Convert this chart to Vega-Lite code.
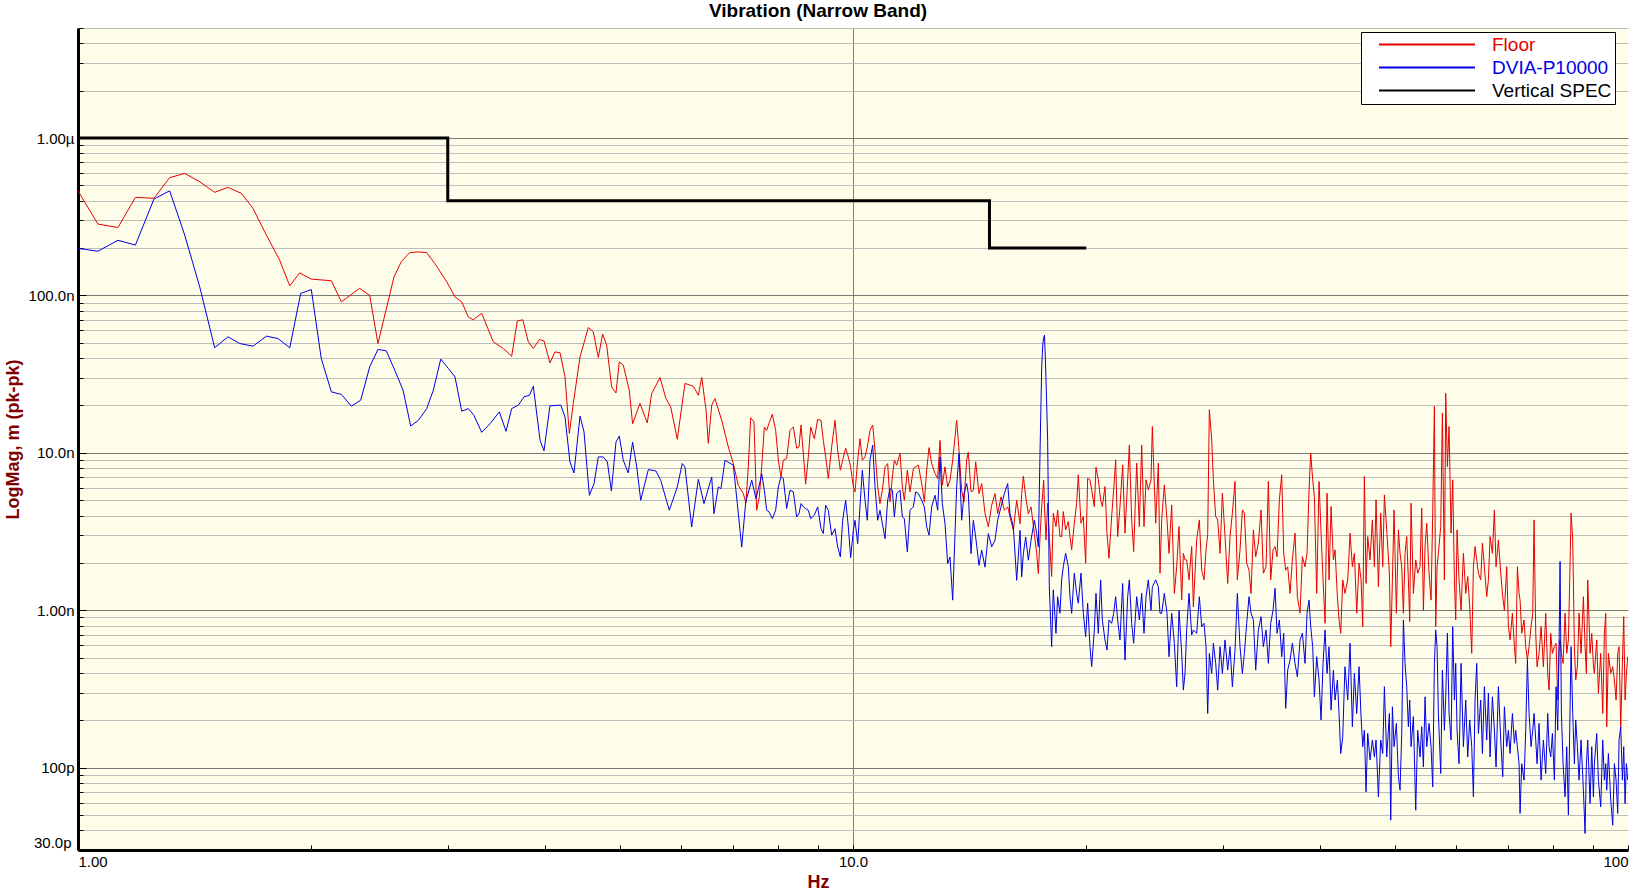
{
"$schema": "https://vega.github.io/schema/vega-lite/v6.json",
"width": 1550, "height": 822,
"autosize": {"type": "none"},
"padding": {"left": 78, "top": 28, "right": 4, "bottom": 42},
"background": "white",
"config": {"view": {"stroke": null, "fill": "#fdfde9"}, "font": "Liberation Sans"},
"title": {"text": "Vibration (Narrow Band)", "fontSize": 19, "fontWeight": "bold", "color": "#000000", "anchor": "middle", "dx": -35, "dy": 20, "offset": 12, "baseline": "alphabetic", "font": "Liberation Sans"},
"datasets": {
"spec": [{"s":"k","f":1,"v":1000},{"s":"k","f":3,"v":400},{"s":"k","f":15,"v":200},{"s":"k","f":20,"v":200}],
"d": [
{"f":1,"r":462},{"f":1.061,"r":284},{"f":1.126,"r":270},{"f":1.186,"r":420},{"f":1.253,"r":414},{"f":1.313,"r":560},{"f":1.373,"r":596},{"f":1.436,"r":527},{"f":1.501,"r":452},{"f":1.561,"r":486},{"f":1.625,"r":445},{"f":1.682,"r":357},{"f":1.75,"r":242},{"f":1.82,"r":168},{"f":1.876,"r":115},{"f":1.932,"r":139},{"f":2,"r":127},{"f":2.123,"r":124},{"f":2.187,"r":91},{"f":2.309,"r":111},{"f":2.379,"r":100},{"f":2.438,"r":49.5},{"f":2.557,"r":131},{"f":2.613,"r":164},{"f":2.679,"r":187},{"f":2.747,"r":189},{"f":2.818,"r":187},{"f":2.888,"r":159},{"f":2.991,"r":122},{"f":3.065,"r":98},{"f":3.127,"r":91},{"f":3.189,"r":73},{"f":3.236,"r":70},{"f":3.318,"r":77},{"f":3.435,"r":50.7},{"f":3.539,"r":46},{"f":3.627,"r":41.1},{"f":3.689,"r":69},{"f":3.749,"r":70},{"f":3.811,"r":50.7},{"f":3.868,"r":46},{"f":3.938,"r":52.5},{"f":3.993,"r":51.4},{"f":4.064,"r":37.3},{"f":4.126,"r":43.8},{"f":4.188,"r":43.2},{"f":4.25,"r":30.4},{"f":4.305,"r":13.3},{"f":4.356,"r":20.6},{"f":4.444,"r":40.7},{"f":4.555,"r":62.5},{"f":4.623,"r":58.7},{"f":4.692,"r":40.4},{"f":4.753,"r":56.8},{"f":4.81,"r":48.3},{"f":4.882,"r":26.2},{"f":4.945,"r":24},{"f":4.994,"r":37.8},{"f":5.053,"r":36.1},{"f":5.144,"r":25},{"f":5.195,"r":15.3},{"f":5.31,"r":20.6},{"f":5.427,"r":15.5},{"f":5.498,"r":23.8},{"f":5.636,"r":30.1},{"f":5.737,"r":22.1},{"f":5.818,"r":19.6},{"f":5.933,"r":12.2},{"f":6.07,"r":27.6},{"f":6.223,"r":26.5},{"f":6.316,"r":23.2},{"f":6.38,"r":30.1},{"f":6.462,"r":18.7},{"f":6.506,"r":11.5},{"f":6.572,"r":20.1},{"f":6.636,"r":22.1},{"f":6.77,"r":16.1},{"f":6.905,"r":10.9},{"f":7.008,"r":8.55},{"f":7.112,"r":6.22},{"f":7.219,"r":5.51},{"f":7.276,"r":4.81},{"f":7.326,"r":8.13},{"f":7.379,"r":16.7},{"f":7.452,"r":15.7},{"f":7.511,"r":4.32},{"f":7.57,"r":5.25},
{"f":1,"b":199},{"f":1.061,"b":191},{"f":1.126,"b":224},{"f":1.186,"b":209},{"f":1.253,"b":409},{"f":1.313,"b":462},{"f":1.373,"b":242},{"f":1.436,"b":113},{"f":1.501,"b":46.5},{"f":1.561,"b":54.6},{"f":1.617,"b":49.5},{"f":1.682,"b":47.6},{"f":1.75,"b":55.1},{"f":1.811,"b":53.3},{"f":1.876,"b":46.5},{"f":1.938,"b":103},{"f":2,"b":109},{"f":2.06,"b":39.8},{"f":2.123,"b":24.4},{"f":2.187,"b":23.5},{"f":2.253,"b":19.8},{"f":2.316,"b":21.6},{"f":2.379,"b":35.2},{"f":2.438,"b":45.4},{"f":2.499,"b":44.5},{"f":2.563,"b":33.5},{"f":2.627,"b":25},{"f":2.687,"b":14.8},{"f":2.749,"b":16.1},{"f":2.818,"b":19.1},{"f":2.874,"b":25},{"f":2.938,"b":39.4},{"f":3.006,"b":34.3},{"f":3.065,"b":30.4},{"f":3.127,"b":18.4},{"f":3.189,"b":19.1},{"f":3.243,"b":17.3},{"f":3.318,"b":13.5},{"f":3.401,"b":15.3},{"f":3.497,"b":18.2},{"f":3.567,"b":13.7},{"f":3.627,"b":19.1},{"f":3.7,"b":20.1},{"f":3.763,"b":22.7},{"f":3.823,"b":23.2},{"f":3.868,"b":26.5},{"f":3.947,"b":12},{"f":3.993,"b":10.3},{"f":4.064,"b":19.9},{"f":4.197,"b":20.1},{"f":4.25,"b":16.9},{"f":4.313,"b":8.75},{"f":4.365,"b":7.45},{"f":4.444,"b":17.1},{"f":4.497,"b":13.6},{"f":4.569,"b":5.37},{"f":4.633,"b":6.38},{"f":4.692,"b":9.42},{"f":4.763,"b":9.42},{"f":4.82,"b":8.75},{"f":4.878,"b":5.73},{"f":4.945,"b":11.7},{"f":4.994,"b":12.8},{"f":5.053,"b":8.97},{"f":5.129,"b":7.45},{"f":5.195,"b":11.7},{"f":5.26,"b":8.13},{"f":5.322,"b":5},{"f":5.444,"b":7.83},{"f":5.569,"b":7.67},{"f":5.647,"b":6.7},{"f":5.794,"b":4.32},{"f":5.933,"b":6.07},{"f":6.021,"b":8.55},{"f":6.07,"b":8.13},{"f":6.192,"b":3.38},{"f":6.316,"b":6.79},{"f":6.423,"b":4.76},{"f":6.572,"b":7.03},{"f":6.616,"b":4.11},{"f":6.702,"b":6.07},{"f":6.756,"b":5.93},{"f":6.836,"b":8.97},{"f":7.008,"b":8.34},{"f":7.091,"b":4.76},{"f":7.185,"b":2.52},{"f":7.271,"b":4.88},{"f":7.402,"b":6.7},{"f":7.496,"b":5.12},{"f":7.586,"b":6.53},
{"f":7.624,"r":8.15,"b":7.39},{"f":7.684,"r":14.6,"b":5.79},{"f":7.738,"r":13.9,"b":4.32},{"f":7.791,"r":15.4,"b":4.22},{"f":7.869,"r":17.6,"b":3.82},{"f":7.947,"r":13.9,"b":4.32},{"f":8.011,"r":8.98,"b":6.08},{"f":8.074,"r":7.04,"b":7.04},{"f":8.13,"r":8.98,"b":6.87},{"f":8.211,"r":9.2,"b":4.43},{"f":8.293,"r":13.9,"b":5.79},{"f":8.376,"r":14.6,"b":5.65},{"f":8.459,"r":10.7,"b":3.92},{"f":8.518,"r":10.9,"b":4.11},{"f":8.569,"r":15,"b":4.76},{"f":8.628,"r":9.9,"b":4.54},{"f":8.688,"r":6.32,"b":4.43},{"f":8.757,"r":9.43,"b":4.32},{"f":8.818,"r":14.6,"b":3.82},{"f":8.915,"r":12.3,"b":4.02},{"f":9.003,"r":16.3,"b":4.54},{"f":9.093,"r":16.1,"b":3.3},{"f":9.156,"r":12,"b":3.07},{"f":9.22,"r":9.43,"b":4.65},{"f":9.293,"r":6.87,"b":4.32},{"f":9.386,"r":10.9,"b":3},{"f":9.479,"r":16.1,"b":3.3},{"f":9.555,"r":10.4,"b":2.53},{"f":9.631,"r":7.76,"b":2.18},{"f":9.698,"r":8.98,"b":3.73},{"f":9.785,"r":10.7,"b":5},{"f":9.862,"r":9.43,"b":3.39},{"f":9.931,"r":8.15,"b":2.16},{"f":10.01,"r":6.08,"b":3.22},{"f":10.06,"r":5.65,"b":3.73},{"f":10.14,"r":8.98,"b":2.65},{"f":10.21,"r":12.3,"b":4.54},{"f":10.281,"r":8.98,"b":7.76},{"f":10.363,"r":9.43,"b":5},{"f":10.435,"r":10.9,"b":3.73},{"f":10.518,"r":13.9,"b":8.98},{"f":10.602,"r":15,"b":11.2},{"f":10.676,"r":10.4,"b":6.08},{"f":10.761,"r":6.08,"b":3.73},{"f":10.835,"r":4.76,"b":4.32},{"f":10.911,"r":5.79,"b":3.55},{"f":10.998,"r":8.15,"b":2.85},{"f":11.085,"r":8.55,"b":5},{"f":11.162,"r":4.88,"b":5.93},{"f":11.24,"r":7.04,"b":5.79},{"f":11.307,"r":8.98,"b":3.92},{"f":11.386,"r":8.35,"b":5.51},{"f":11.499,"r":9.9,"b":5.79},{"f":11.579,"r":6.08,"b":3.92},{"f":11.648,"r":5,"b":3.82},{"f":11.752,"r":7.76,"b":2.35},{"f":11.846,"r":5.65,"b":4.32},{"f":11.964,"r":7.95,"b":4.54},{"f":12.047,"r":8.15,"b":5.65},{"f":12.143,"r":8.35,"b":5.51},{"f":12.264,"r":6.38,"b":5},{"f":12.361,"r":4.88,"b":4.54},{"f":12.447,"r":7.76,"b":3.39},{"f":12.534,"r":10.8,"b":3},{"f":12.633,"r":8.55,"b":4.54},{"f":12.759,"r":7.39,"b":5.38},{"f":12.861,"r":6.87,"b":4.32},{"f":12.95,"r":12,"b":9.43},{"f":13.04,"r":6.23,"b":4.76},{"f":13.144,"r":8.15,"b":3.55},{"f":13.248,"r":6.08,"b":1.98},{"f":13.341,"r":6.7,"b":2.18},{"f":13.447,"r":8.98,"b":1.16},{"f":13.54,"r":12.6,"b":3.07},{"f":13.607,"r":16.1,"b":6.08},{"f":13.702,"r":10.4,"b":9.9},{"f":13.811,"r":5.79,"b":3.73},{"f":13.907,"r":4.88,"b":5.51},{"f":14.018,"r":8.98,"b":6.38},{"f":14.088,"r":10.1,"b":5.51},{"f":14.199,"r":5.65,"b":2.29},{"f":14.298,"r":5.79,"b":3.73},{"f":14.398,"r":8.77,"b":2.92},{"f":14.541,"r":5.51,"b":1.93},{"f":14.657,"r":6.38,"b":2.41},{"f":14.803,"r":4.11,"b":1.88},{"f":14.95,"r":3.39,"b":3.07},{"f":15.099,"r":4.65,"b":2.53},{"f":15.249,"r":5.51,"b":2.79},{"f":15.37,"r":4.11,"b":3.73},{"f":15.523,"r":5.25,"b":4.54},{"f":15.678,"r":4.32,"b":5.51},{"f":15.834,"r":4.54,"b":6.38},{"f":15.944,"r":3.92,"b":4.11},{"f":16.103,"r":3.22,"b":3.39},{"f":16.263,"r":5,"b":1.55},{"f":16.425,"r":3.55,"b":3.22},{"f":16.507,"r":5.51,"b":1.63},{"f":16.589,"r":7.11,"b":2.29},{"f":16.704,"r":5.25,"b":2.92},{"f":16.837,"r":4.11,"b":2.08},{"f":16.971,"r":4.54,"b":2.79},{"f":17.14,"r":3.07,"b":3.73},{"f":17.259,"r":2.29,"b":3.07},{"f":17.344,"r":1.71,"b":2.53},{"f":17.43,"r":2.92,"b":9.9},{"f":17.517,"r":4.54,"b":35},{"f":17.569,"r":5.51,"b":48},{"f":17.621,"r":6.7,"b":54},{"f":17.665,"r":4.54,"b":56},
{"f":17.742,"r":2.8,"b":30},{"f":17.83,"r":4.79,"b":12},{"f":17.918,"r":2.94,"b":1.41},{"f":18.043,"r":1.64,"b":0.587},{"f":18.132,"r":4.14,"b":1.35},{"f":18.276,"r":3.4,"b":0.714},{"f":18.367,"r":4.34,"b":1.22},{"f":18.495,"r":2.94,"b":0.957},{"f":18.587,"r":2.94,"b":1.56},{"f":18.679,"r":4.24,"b":1.89},{"f":18.809,"r":3.24,"b":2.3},{"f":18.959,"r":3.66,"b":1.89},{"f":19.053,"r":2.94,"b":1.22},{"f":19.148,"r":2.42,"b":0.957},{"f":19.3,"r":3.57,"b":1.72},{"f":19.435,"r":4.79,"b":1.28},{"f":19.531,"r":7.25,"b":1.11},{"f":19.687,"r":3.57,"b":1.72},{"f":19.824,"r":3.94,"b":0.957},{"f":19.962,"r":1.99,"b":0.68},{"f":20.08,"r":6.9,"b":1.11},{"f":20.22,"r":6.74,"b":0.587},{"f":20.321,"r":5.82,"b":0.438},{"f":20.482,"r":4.56,"b":0.75},{"f":20.584,"r":8.11,"b":1.28},{"f":20.727,"r":6.74,"b":0.714},{"f":20.871,"r":5.03,"b":1.56},{"f":20.975,"r":4.56,"b":0.868},{"f":21.142,"r":6.11,"b":0.648},{"f":21.268,"r":3.09,"b":0.559},{"f":21.395,"r":2.14,"b":0.868},{"f":21.565,"r":3.94,"b":0.826},{"f":21.694,"r":5.82,"b":0.957},{"f":21.823,"r":9.03,"b":1.22},{"f":21.953,"r":2.94,"b":0.868},{"f":22.106,"r":4.56,"b":0.648},{"f":22.282,"r":8.39,"b":1.48},{"f":22.437,"r":3.09,"b":0.483},{"f":22.615,"r":6.74,"b":1.22},{"f":22.728,"r":11.2,"b":1.56},{"f":22.886,"r":3.75,"b":0.826},{"f":23.022,"r":2.36,"b":0.617},{"f":23.229,"r":8.6,"b":1.22},{"f":23.414,"r":3.4,"b":0.868},{"f":23.577,"r":11.2,"b":1.28},{"f":23.741,"r":3.4,"b":0.714},{"f":23.882,"r":6.74,"b":1.22},{"f":24.048,"r":5.82,"b":1.56},{"f":24.24,"r":6.74,"b":1},{"f":24.336,"r":14.7,"b":1.41},{"f":24.578,"r":3.57,"b":1.56},{"f":24.774,"r":8.6,"b":1.41},{"f":24.897,"r":1.72,"b":0.957},{"f":25.02,"r":3.75,"b":0.957},{"f":25.219,"r":6.26,"b":1.28},{"f":25.42,"r":3.75,"b":0.957},{"f":25.572,"r":2.3,"b":0.507},{"f":25.775,"r":4.67,"b":0.957},{"f":25.98,"r":1.28,"b":0.617},{"f":26.161,"r":1.89,"b":0.327},{"f":26.343,"r":3.4,"b":1},{"f":26.553,"r":1.16,"b":0.532},{"f":26.685,"r":2.3,"b":0.311},{"f":26.817,"r":2.09,"b":0.397},{"f":26.95,"r":2.09,"b":0.75},{"f":27.138,"r":1.56,"b":1.28},{"f":27.354,"r":2.54,"b":0.697},{"f":27.49,"r":1.05,"b":0.75},{"f":27.763,"r":2.8,"b":0.714},{"f":27.984,"r":3.75,"b":1.22},{"f":28.179,"r":1.8,"b":0.787},{"f":28.375,"r":1.56,"b":0.826},{"f":28.544,"r":2.42,"b":0.587},{"f":28.686,"r":3.01,"b":0.221},{"f":28.828,"r":18.8,"b":0.532},{"f":29.029,"r":12.1,"b":0.397},{"f":29.173,"r":6.74,"b":0.617},{"f":29.376,"r":3.94,"b":0.46},{"f":29.551,"r":3.75,"b":0.311},{"f":29.757,"r":2.3,"b":0.587},{"f":29.964,"r":5.54,"b":0.397},{"f":30.202,"r":2.94,"b":0.648},{"f":30.443,"r":1.48,"b":0.417},{"f":30.654,"r":2.94,"b":0.587},{"f":30.868,"r":4.14,"b":0.327},{"f":31.113,"r":6.58,"b":0.559},{"f":31.329,"r":1.56,"b":1.28},{"f":31.578,"r":2.42,"b":0.587},{"f":31.798,"r":4.34,"b":0.397},{"f":31.988,"r":4.14,"b":0.532},{"f":32.21,"r":1.99,"b":0.826},{"f":32.434,"r":1.8,"b":1.22},{"f":32.628,"r":1.28,"b":0.957},{"f":32.855,"r":3.24,"b":0.868},{"f":33.083,"r":2.19,"b":0.417},{"f":33.347,"r":2.67,"b":0.75},{"f":33.612,"r":4.34,"b":0.911},{"f":33.846,"r":1.72,"b":0.587},{"f":34.115,"r":1.89,"b":0.75},{"f":34.352,"r":6.58,"b":0.46},{"f":34.591,"r":1.56,"b":0.826},{"f":34.832,"r":2.42,"b":1},{"f":35.04,"r":2.54,"b":1.38},{"f":35.249,"r":2.19,"b":0.714},{"f":35.494,"r":5.03,"b":0.868},{"f":35.741,"r":7.25,"b":0.507},{"f":35.954,"r":2.3,"b":0.714},{"f":36.169,"r":1.8,"b":0.238},{"f":36.384,"r":1.89,"b":0.417},{"f":36.637,"r":1.28,"b":0.483},{"f":36.892,"r":2.09,"b":0.617},{"f":37.186,"r":3.09,"b":0.46},{"f":37.444,"r":1.22,"b":0.378},{"f":37.742,"r":0.957,"b":0.648},{"f":38.005,"r":2.19,"b":0.714},{"f":38.307,"r":1.89,"b":0.46},{"f":38.535,"r":2.3,"b":0.957},{"f":38.765,"r":5.82,"b":1.16},{"f":38.958,"r":9.95,"b":0.787},{"f":39.19,"r":6.74,"b":0.587},{"f":39.385,"r":5.28,"b":0.282},{"f":39.659,"r":1.28,"b":0.507},{"f":39.935,"r":6.58,"b":0.36},{"f":40.173,"r":3.09,"b":0.201},{"f":40.413,"r":1.56,"b":0.46},{"f":40.653,"r":0.826,"b":0.75},{"f":40.896,"r":5.54,"b":0.397},{"f":41.14,"r":1.56,"b":0.587},{"f":41.385,"r":4.56,"b":0.232},{"f":41.673,"r":2.09,"b":0.417},{"f":41.88,"r":2.42,"b":0.269},{"f":42.171,"r":1.22,"b":0.36},{"f":42.381,"r":0.868,"b":0.221},{"f":42.591,"r":0.714,"b":0.123},{"f":42.845,"r":1.56,"b":0.157},{"f":43.13,"r":1.28,"b":0.438},
{"f":43.486,"r":1.56,"b":0.269},{"f":43.788,"r":3.09,"b":0.617},{"f":44.093,"r":1.89,"b":0.182},{"f":44.356,"r":2.3,"b":0.397},{"f":44.665,"r":0.957,"b":0.221},{"f":44.975,"r":1.99,"b":0.438},{"f":45.243,"r":1.56,"b":0.211},{"f":45.468,"r":0.787,"b":0.136},{"f":45.693,"r":7.07,"b":0.173},{"f":45.921,"r":1.48,"b":0.0703},{"f":46.148,"r":2.94,"b":0.165},{"f":46.47,"r":2.09,"b":0.112},{"f":46.793,"r":3.75,"b":0.15},{"f":47.072,"r":1.89,"b":0.117},{"f":47.306,"r":5.03,"b":0.15},{"f":47.635,"r":1.41,"b":0.0653},{"f":47.966,"r":4.14,"b":0.15},{"f":48.252,"r":1.89,"b":0.123},{"f":48.492,"r":5.41,"b":0.327},{"f":48.829,"r":3.24,"b":0.117},{"f":49.217,"r":1.72,"b":0.221},{"f":49.413,"r":0.587,"b":0.0464},{"f":49.658,"r":1.56,"b":0.244},{"f":49.904,"r":4.34,"b":0.136},{"f":50.251,"r":0.957,"b":0.191},{"f":50.551,"r":3.24,"b":0.0876},{"f":50.802,"r":2.3,"b":0.072},{"f":51.054,"r":1.89,"b":0.165},{"f":51.308,"r":0.957,"b":0.868},{"f":51.562,"r":2.3,"b":0.46},{"f":51.818,"r":2.94,"b":0.327},{"f":52.075,"r":1.56,"b":0.182},{"f":52.282,"r":0.847,"b":0.269},{"f":52.489,"r":4.79,"b":0.136},{"f":52.855,"r":1.28,"b":0.211},{"f":53.222,"r":2.09,"b":0.0537},{"f":53.539,"r":1.72,"b":0.173},{"f":53.912,"r":1.89,"b":0.117},{"f":54.18,"r":4.45,"b":0.182},{"f":54.449,"r":1,"b":0.101},{"f":54.719,"r":2.54,"b":0.282},{"f":54.991,"r":3.57,"b":0.136},{"f":55.373,"r":1.72,"b":0.191},{"f":55.703,"r":1.16,"b":0.136},{"f":55.98,"r":4.14,"b":0.0756},{"f":56.258,"r":19.7,"b":0.46},{"f":56.481,"r":0.787,"b":0.75},{"f":56.705,"r":1.89,"b":0.587},{"f":56.93,"r":2.3,"b":0.221},{"f":57.327,"r":3.4,"b":0.0919},{"f":57.611,"r":17.9,"b":0.417},{"f":57.955,"r":1.56,"b":0.173},{"f":58.185,"r":23.9,"b":0.282},{"f":58.474,"r":8.19,"b":0.714},{"f":58.764,"r":14.7,"b":0.221},{"f":59.114,"r":3.09,"b":0.15},{"f":59.408,"r":6.74,"b":0.787},{"f":59.702,"r":1.56,"b":0.269},{"f":59.94,"r":0.868,"b":0.46},{"f":60.177,"r":3.24,"b":0.173},{"f":60.536,"r":1.56,"b":0.106},{"f":60.897,"r":1,"b":0.46},{"f":61.321,"r":2.3,"b":0.136},{"f":61.747,"r":1.28,"b":0.269},{"f":62.115,"r":1.64,"b":0.117},{"f":62.485,"r":1.05,"b":0.201},{"f":62.858,"r":0.532,"b":0.136},{"f":63.17,"r":1.89,"b":0.0653},{"f":63.483,"r":2.54,"b":0.269},{"f":63.799,"r":2.09,"b":0.46},{"f":64.115,"r":1.72,"b":0.165},{"f":64.561,"r":1.56,"b":0.269},{"f":64.882,"r":2.67,"b":0.123},{"f":65.268,"r":1.89,"b":0.327},{"f":65.723,"r":1.22,"b":0.15},{"f":66.049,"r":1.56,"b":0.297},{"f":66.377,"r":2.94,"b":0.117},{"f":66.838,"r":2.3,"b":0.282},{"f":67.237,"r":4.34,"b":0.173},{"f":67.57,"r":1.89,"b":0.101},{"f":68.041,"r":2.8,"b":0.327},{"f":68.514,"r":1.72,"b":0.15},{"f":68.923,"r":1.22,"b":0.0876},{"f":69.264,"r":1,"b":0.244},{"f":69.747,"r":1.89,"b":0.136},{"f":70.093,"r":0.787,"b":0.173},{"f":70.441,"r":0.648,"b":0.123},{"f":70.931,"r":0.957,"b":0.221},{"f":71.353,"r":0.587,"b":0.143},{"f":71.637,"r":0.46,"b":0.173},{"f":71.992,"r":1.89,"b":0.136},{"f":72.35,"r":1.28,"b":0.106},{"f":72.565,"r":1.16,"b":0.0512},{"f":72.925,"r":0.714,"b":0.106},{"f":73.433,"r":0.868,"b":0.0834},{"f":73.797,"r":0.587,"b":0.173},{"f":74.163,"r":0.483,"b":0.483},{"f":74.532,"r":0.587,"b":0.221},{"f":74.976,"r":0.787,"b":0.136},{"f":75.348,"r":0.957,"b":0.173},{"f":75.647,"r":3.75,"b":0.221},{"f":76.023,"r":0.714,"b":0.15},{"f":76.324,"r":0.438,"b":0.106},{"f":76.779,"r":0.532,"b":0.191},{"f":77.237,"r":0.787,"b":0.0834},{"f":77.775,"r":0.438,"b":0.15},{"f":78.316,"r":0.957,"b":0.0919},{"f":78.782,"r":0.397,"b":0.221},{"f":79.095,"r":0.311,"b":0.136},{"f":79.488,"r":0.714,"b":0.117},{"f":79.882,"r":0.532,"b":0.165},{"f":80.359,"r":0.587,"b":0.0834},{"f":80.757,"r":0.617,"b":0.327},{"f":81.158,"r":0.269,"b":0.173},{"f":81.481,"r":0.587,"b":0.587},{"f":81.723,"r":0.648,"b":2.04},{"f":82.047,"r":0.532,"b":0.221},{"f":82.454,"r":0.46,"b":0.106},{"f":82.946,"r":0.957,"b":0.0653},{"f":83.358,"r":0.532,"b":0.136},{"f":83.772,"r":0.648,"b":0.05},{"f":84.104,"r":1.56,"b":0.173},{"f":84.438,"r":4.14,"b":0.587},{"f":84.857,"r":2.8,"b":0.221},{"f":85.278,"r":0.587,"b":0.106},{"f":85.617,"r":0.36,"b":0.201},{"f":86.042,"r":0.438,"b":0.136},{"f":86.469,"r":0.957,"b":0.0834},{"f":86.985,"r":0.532,"b":0.15},{"f":87.59,"r":1.22,"b":0.072},{"f":88.025,"r":0.587,"b":0.0382},{"f":88.374,"r":0.397,"b":0.106},{"f":88.725,"r":1.56,"b":0.15},{"f":89.342,"r":0.532,"b":0.0592},{"f":89.786,"r":0.714,"b":0.136},{"f":90.231,"r":0.449,"b":0.0653},{"f":90.5,"r":0.397,"b":0.106},{"f":91.129,"r":0.648,"b":0.165},{"f":91.582,"r":0.297,"b":0.0834},{"f":92.218,"r":0.532,"b":0.0564},{"f":92.768,"r":0.221,"b":0.15},{"f":93.229,"r":0.714,"b":0.0834},{"f":93.599,"r":0.957,"b":0.106},{"f":93.877,"r":0.182,"b":0.072},{"f":94.344,"r":0.532,"b":0.123},{"f":95,"r":0.397,"b":0.0622},{"f":95.566,"r":0.438,"b":0.0431},{"f":96.041,"r":0.36,"b":0.106},{"f":96.517,"r":0.269,"b":0.0834},{"f":96.996,"r":0.532,"b":0.0512},{"f":97.381,"r":0.587,"b":0.15},{"f":97.865,"r":0.182,"b":0.182},{"f":98.351,"r":0.46,"b":0.0834},{"f":98.741,"r":0.911,"b":0.136},{"f":99.133,"r":0.269,"b":0.0592},{"f":99.526,"r":0.397,"b":0.106},{"f":99.921,"r":0.507,"b":0.0834}
]},
"encoding": {
"x": {"field": "f", "type": "quantitative", "scale": {"type": "log", "domain": [1, 100], "nice": false},
 "axis": {"values": [1,2,3,4,5,6,7,8,9,10,20,30,40,50,60,70,80,90,100],
  "labelExpr": "datum.value == 1 ? '1.00' : datum.value == 10 ? '10.0' : datum.value == 100 ? '100' : ''",
  "labelFlush": true, "labelOverlap": false, "labelFontSize": 15, "labelColor": "#000000", "labelFont": "Liberation Sans", "labelPadding": 9,
  "grid": true, "gridColor": "#808080", "gridOpacity": {"condition": {"test": "datum.value == 10", "value": 1}, "value": 0},
  "domainColor": "#000000", "domainWidth": 3, "tickColor": "#000000", "tickSize": -5, "tickWidth": 1,
  "title": "Hz", "titleColor": "#800000", "titleFontSize": 18, "titleFontWeight": "bold", "titleFont": "Liberation Sans", "titleX": 740, "titleY": 37, "titleBaseline": "alphabetic", "titleAlign": "center"}},
"y": {"field": "v", "type": "quantitative", "scale": {"type": "log", "domain": [0.03, 5000], "nice": false},
 "axis": {"values": [0.03,0.04,0.05,0.06,0.07,0.08,0.09,0.1,0.2,0.3,0.4,0.5,0.6,0.7,0.8,0.9,1,2,3,4,5,6,7,8,9,10,20,30,40,50,60,70,80,90,100,200,300,400,500,600,700,800,900,1000,2000,3000,4000,5000],
  "labelExpr": "datum.value == 0.03 ? '30.0p' : datum.value == 0.1 ? '100p' : datum.value == 1 ? '1.00n' : datum.value == 10 ? '10.0n' : datum.value == 100 ? '100.0n' : datum.value == 1000 ? '1.00µ' : ''",
  "labelFlush": true, "labelOverlap": false, "labelFontSize": 15, "labelColor": "#000000", "labelFont": "Liberation Sans", "labelPadding": 12,
  "grid": true,
  "gridColor": {"condition": {"test": "datum.value == 0.1 || datum.value == 1 || datum.value == 10 || datum.value == 100 || datum.value == 1000", "value": "#7a7a7a"}, "value": "#bdbdbd"},
  "domainColor": "#000000", "domainWidth": 3, "tickColor": "#000000", "tickWidth": 1,
  "tickSize": {"condition": {"test": "datum.value == 0.1 || datum.value == 1 || datum.value == 10 || datum.value == 100 || datum.value == 1000", "value": -8}, "value": -5},
  "title": "LogMag, m (pk-pk)", "titleColor": "#800000", "titleFontSize": 18, "titleFontWeight": "bold", "titleFont": "Liberation Sans", "titleAngle": 270, "titleX": -65, "titleY": 411, "titleAlign": "center", "titleBaseline": "middle"}},
"color": {"field": "s", "type": "nominal", "scale": {"domain": ["r","b","k"], "range": ["#e60000","#0000e6","#000000"]},
 "legend": {"orient": "none", "legendX": 1283, "legendY": 4, "title": null, "direction": "vertical",
  "labelExpr": "datum.label == 'r' ? 'Floor' : datum.label == 'b' ? 'DVIA-P10000' : 'Vertical SPEC'",
  "symbolType": "stroke", "symbolSize": 9216, "symbolStrokeWidth": 2, "symbolOffset": 14, "clipHeight": 19,
  "labelFontSize": 19, "labelFont": "Liberation Sans", "labelOffset": 16,
  "fillColor": "#ffffff", "strokeColor": "#000000", "padding": 3, "rowPadding": 3,
  "encode": {"labels": {"update": {"fill": {"scale": "color", "field": "value"}}}}}}
},
"layer": [
 {"data": {"name": "d"}, "transform": [{"fold": ["r"], "as": ["s", "v"]}, {"filter": "isValid(datum.v)"}], "mark": {"type": "line", "strokeWidth": 1, "clip": true}},
 {"data": {"name": "d"}, "transform": [{"fold": ["b"], "as": ["s", "v"]}, {"filter": "isValid(datum.v)"}], "mark": {"type": "line", "strokeWidth": 1, "clip": true}},
 {"data": {"name": "spec"}, "mark": {"type": "line", "strokeWidth": 3, "interpolate": "step-after", "clip": true}}
]
}
